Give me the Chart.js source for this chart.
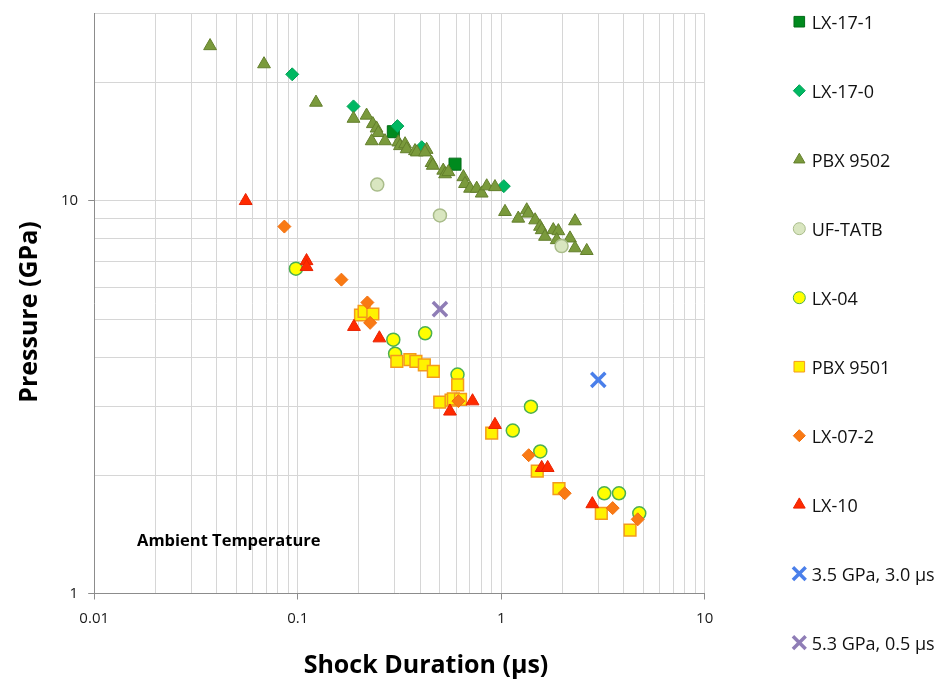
<!DOCTYPE html>
<html>
<head>
<meta charset="utf-8">
<script src="https://cdn.jsdelivr.net/npm/chart.js@4.4.1/dist/chart.umd.min.js"></script>
<style>
  html, body { margin: 0; padding: 0; background: #ffffff; }
  #wrap { width: 942px; height: 679px; position: relative; }
</style>
</head>
<body>
<div id="wrap"><canvas id="c" width="942" height="679"></canvas></div>
<script>
// ---- Data ----
const seriesNames = ['LX-17-1', 'LX-17-0', 'PBX 9502', 'UF-TATB', 'LX-04', 'PBX 9501', 'LX-07-2', 'LX-10', '3.5 GPa, 3.0 µs', '5.3 GPa, 0.5 µs'];

const lx171X = [0.295, 0.593];
const lx171Y = [15.0, 12.4];

const lx170X = [0.094, 0.188, 0.309, 0.407, 1.03];
const lx170Y = [21.0, 17.4, 15.5, 13.7, 10.9];

const pbx9502X = [0.0371, 0.0683, 0.123, 0.188, 0.218, 0.234, 0.244, 0.249, 0.231, 0.2685, 0.312, 0.318, 0.337, 0.343, 0.377, 0.385, 0.430, 0.422, 0.455, 0.461, 0.519, 0.530, 0.550, 0.652, 0.664, 0.703, 0.758, 0.802, 0.849, 0.932, 1.044, 1.213, 1.335, 1.36, 1.468, 1.551, 1.581, 1.641, 1.803, 1.909, 1.874, 2.178, 2.305, 2.305, 2.632];
const pbx9502Y = [24.8, 22.3, 17.8, 16.2, 16.5, 15.7, 15.3, 14.9, 14.2, 14.2, 14.1, 13.8, 13.95, 13.55, 13.4, 13.3, 13.5, 13.3, 12.5, 12.3, 11.95, 11.7, 11.85, 11.5, 11.05, 10.75, 10.75, 10.45, 10.9, 10.85, 9.38, 9.02, 9.47, 9.29, 8.93, 8.60, 8.43, 8.11, 8.43, 8.38, 7.95, 8.03, 8.88, 7.58, 7.46];

const uftatbX = [0.246, 0.500, 1.98];
const uftatbY = [11.0, 9.18, 7.67];

const lx04X = [0.098, 0.295, 0.423, 0.301, 0.610, 1.40, 1.14, 1.556, 3.21, 3.79, 4.77];
const lx04Y = [6.72, 4.43, 4.60, 4.08, 3.61, 2.99, 2.60, 2.30, 1.80, 1.80, 1.60];

const pbx9501X = [0.2035, 0.212, 0.234, 0.307, 0.356, 0.381, 0.419, 0.464, 0.611, 0.499, 0.567, 0.582, 0.631, 0.898, 1.504, 1.923, 3.104, 4.296];
const pbx9501Y = [5.12, 5.23, 5.15, 3.90, 3.94, 3.90, 3.82, 3.68, 3.40, 3.07, 3.11, 3.13, 3.12, 2.56, 2.05, 1.85, 1.60, 1.45];

const lx072X = [0.0860, 0.164, 0.220, 0.227, 0.616, 1.365, 2.051, 3.531, 4.687];
const lx072Y = [8.60, 6.30, 5.51, 4.89, 3.09, 2.25, 1.80, 1.65, 1.545];

const lx10X = [0.0555, 0.1105, 0.1105, 0.189, 0.252, 0.560, 0.723, 0.932, 1.581, 1.692, 2.804];
const lx10Y = [10.0, 7.03, 6.79, 4.78, 4.47, 2.91, 3.09, 2.69, 2.09, 2.09, 1.69];

const testAX = [3.0];
const testAY = [3.5];
const testBX = [0.5];
const testBY = [5.3];

const xAxisRange = [0.01, 10];
const yAxisRange = [1, 30];
const xTitle = 'Shock Duration (µs)';
const yTitle = 'Pressure (GPa)';
const noteText = 'Ambient Temperature';

// ---- Build datasets ----
function pts(xs, ys) { return xs.map((x, i) => ({ x: x, y: ys[i] })); }

const styles = [
  { style: 'rect',     r: 8.5, lr: 7.5, bg: '#008A1E', bd: '#006B17', bw: 1 },
  { style: 'rectRot',  r: 6.5, lr: 6,   bg: '#00B862', bd: '#00A055', bw: 1 },
  { style: 'triangle', r: 7.4, lr: 6.5, bg: '#7A9A3C', bd: '#637F2C', bw: 1 },
  { style: 'circle',   r: 6.5, lr: 6,   bg: '#D9E6C0', bd: '#A9BC8A', bw: 1.5 },
  { style: 'circle',   r: 6.5, lr: 6,   bg: '#FFFF00', bd: '#4CB050', bw: 1.5 },
  { style: 'rect',     r: 8.3, lr: 7.5, bg: '#FFF200', bd: '#F49A1C', bw: 1.5 },
  { style: 'rectRot',  r: 6.5, lr: 6,   bg: '#F97A14', bd: '#F26E0C', bw: 1 },
  { style: 'triangle', r: 7.4, lr: 6.8, bg: '#FF2A00', bd: '#E82200', bw: 1 },
  { style: 'crossRot', r: 10,  lr: 9,   bg: '#4A7FEA', bd: '#4A7FEA', bw: 3.5 },
  { style: 'crossRot', r: 10,  lr: 9,   bg: '#8F7DB6', bd: '#8F7DB6', bw: 3.5 }
];

const seriesData = [
  pts(lx171X, lx171Y), pts(lx170X, lx170Y), pts(pbx9502X, pbx9502Y), pts(uftatbX, uftatbY),
  pts(lx04X, lx04Y), pts(pbx9501X, pbx9501Y), pts(lx072X, lx072Y), pts(lx10X, lx10Y),
  pts(testAX, testAY), pts(testBX, testBY)
];

const datasets = seriesNames.map((name, i) => ({
  label: name,
  data: seriesData[i],
  pointStyle: styles[i].style,
  pointRadius: styles[i].r,
  pointHoverRadius: styles[i].r,
  backgroundColor: styles[i].bg,
  borderColor: styles[i].bd,
  borderWidth: styles[i].bw,
  pointBorderWidth: styles[i].bw,
  showLine: false,
  order: -i
}));

function isPow10(v) {
  const l = Math.log10(v);
  return Math.abs(l - Math.round(l)) < 1e-9;
}
function keepIntegerMantissa(scale) {
  scale.ticks = scale.ticks.filter(t => {
    const e = Math.floor(Math.log10(t.value) + 1e-9);
    const m = t.value / Math.pow(10, e);
    return Math.abs(m - Math.round(m)) < 1e-6;
  });
}

const FONT = "'Open Sans', 'DejaVu Sans', sans-serif";

const overlay = {
  id: 'overlay',
  afterDraw(chart) {
    const ctx = chart.ctx;
    ctx.save();
    // axis titles
    ctx.fillStyle = '#000';
    ctx.font = 'bold 25px ' + FONT;
    ctx.textAlign = 'center';
    ctx.textBaseline = 'alphabetic';
    ctx.fillText(xTitle, 426, 673);
    ctx.save();
    ctx.translate(37, 312);
    ctx.rotate(-Math.PI / 2);
    ctx.fillText(yTitle, 0, 0);
    ctx.restore();
    // note
    ctx.font = 'bold 16.5px ' + FONT;
    ctx.textAlign = 'left';
    ctx.textBaseline = 'middle';
    ctx.fillText(noteText, 137, 541);
    // legend
    const lx = 799.3, ly0 = 21.7, step = 69.0;
    chart.data.datasets.forEach((ds, i) => {
      const y = ly0 + i * step;
      const s = styles[i];
      ctx.fillStyle = s.bg;
      ctx.strokeStyle = s.bd;
      ctx.lineWidth = s.style === 'crossRot' ? 3.5 : 1;
      Chart.helpers.drawPoint(ctx, { pointStyle: s.style, radius: s.lr, borderWidth: ctx.lineWidth, rotation: 0 }, lx, y);
      ctx.fillStyle = '#111';
      ctx.font = '18px ' + FONT;
      ctx.textAlign = 'left';
      ctx.textBaseline = 'middle';
      ctx.fillText(ds.label, 811.7, y + 2);
    });
    ctx.restore();
  }
};

new Chart(document.getElementById('c'), {
  type: 'scatter',
  data: { datasets: datasets },
  options: {
    responsive: false,
    animation: false,
    devicePixelRatio: 1,
    layout: { padding: { left: 0, right: 237.3, top: 8.3, bottom: 0 } },
    plugins: { legend: { display: false }, tooltip: { enabled: false }, title: { display: false } },
    scales: {
      x: {
        type: 'logarithmic',
        min: xAxisRange[0], max: xAxisRange[1],
        afterBuildTicks: keepIntegerMantissa,
        afterFit: (s) => { s.height = 85.5; s.paddingLeft = 0; s.paddingRight = 0; },
        border: { display: true, color: '#8C8C8C', width: 1 },
        grid: {
          color: '#D6D6D6', lineWidth: 1, drawTicks: true, tickLength: 6,
          tickColor: (c) => (c.tick && isPow10(c.tick.value)) ? '#8C8C8C' : 'rgba(0,0,0,0)'
        },
        ticks: {
          autoSkip: false, maxRotation: 0, padding: 10,
          color: '#1A1A1A', font: { family: FONT, size: 15 },
          callback: (v) => isPow10(v) ? String(+v.toPrecision(6)) : ''
        }
      },
      y: {
        type: 'logarithmic',
        min: yAxisRange[0], max: yAxisRange[1],
        afterBuildTicks: keepIntegerMantissa,
        afterFit: (s) => { s.width = 94.2; s.paddingTop = 0; s.paddingBottom = 0; },
        border: { display: true, color: '#8C8C8C', width: 1 },
        grid: {
          color: '#D6D6D6', lineWidth: 1, drawTicks: true, tickLength: 6,
          tickColor: (c) => (c.tick && isPow10(c.tick.value)) ? '#8C8C8C' : 'rgba(0,0,0,0)'
        },
        ticks: {
          autoSkip: false, padding: 10,
          color: '#1A1A1A', font: { family: FONT, size: 15 },
          callback: (v) => isPow10(v) ? String(+v.toPrecision(6)) : ''
        }
      }
    }
  },
  plugins: [overlay]
});
</script>
</body>
</html>
